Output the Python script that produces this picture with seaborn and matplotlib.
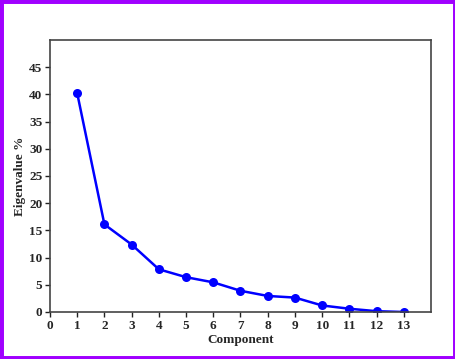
import matplotlib
matplotlib.use("Agg")
import matplotlib.pyplot as plt
import seaborn as sns
import pandas as pd
from matplotlib.patches import Rectangle

components = [1, 2, 3, 4, 5, 6, 7, 8, 9, 10, 11, 12, 13]
eigenvalue_pct = [40.2, 16.1, 12.4, 7.85, 6.4, 5.45, 3.9, 2.95, 2.65, 1.2, 0.6, 0.15, 0.0]
x_ticks = list(range(0, 14))
y_ticks = [0, 5, 10, 15, 20, 25, 30, 35, 40, 45]

sns.set_style("ticks")
plt.rcParams['font.family'] = ['Liberation Serif', 'DejaVu Serif']

df = pd.DataFrame({"Component": components, "Eigenvalue %": eigenvalue_pct})

fig = plt.figure(figsize=(4.56, 3.59), dpi=100)
ax = fig.add_axes([50/456, 1 - 312/359, (431-50)/456, (312-40)/359])
sns.lineplot(data=df, x="Component", y="Eigenvalue %", ax=ax, color="#0000ff",
             marker="o", markersize=6.5, markeredgewidth=0, linewidth=1.8)
ax.set_xlim(0, 14)
ax.set_ylim(0, 50)
ax.set_xticks(x_ticks)
ax.set_yticks(y_ticks)
ax.set_xticklabels([str(t) for t in x_ticks], fontsize=9.5, fontweight="bold")
ax.set_yticklabels([str(t) for t in y_ticks], fontsize=9.5, fontweight="bold")
ax.set_xlabel("Component", fontsize=9.5, fontweight="bold", labelpad=2)
ax.set_ylabel("Eigenvalue %", fontsize=9.5, fontweight="bold", labelpad=2)
ax.tick_params(direction="out", length=3.5, width=1, pad=2, color="#222222")
for s in ax.spines.values():
    s.set_visible(True)
    s.set_color("#444444")
    s.set_linewidth(1.2)

fig.patches.append(Rectangle((0, 0), 1, 1, transform=fig.transFigure, fill=False,
                             edgecolor="#a000ff", linewidth=5, zorder=10))
fig.savefig("out.png", dpi=100)
